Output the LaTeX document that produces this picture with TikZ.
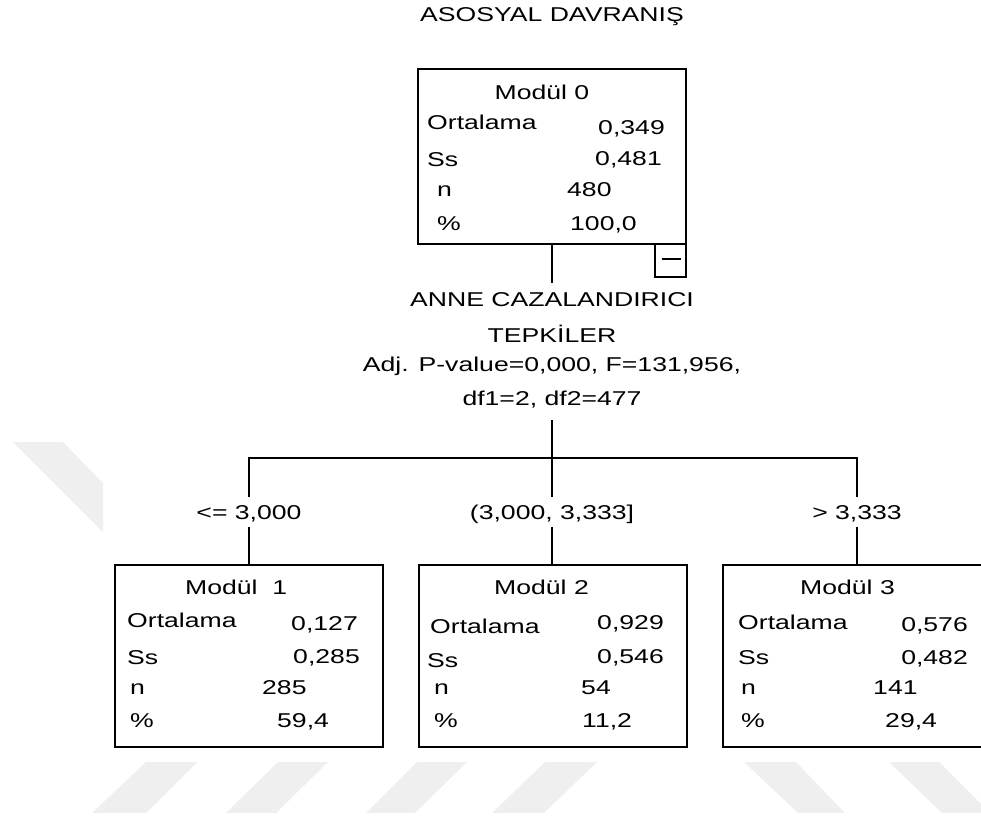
\documentclass[tikz,border=0pt]{standalone}
\usepackage{fontspec}
\setmainfont{Liberation Sans}[FakeStretch=1.33]
\newcommand\tf{\fontsize{20}{24}\selectfont}
\definecolor{stripe}{HTML}{EFEFEF}
\begin{document}
\begin{tikzpicture}[x=1pt,y=-1pt,
  box/.style={draw=black, line width=2pt, minimum width=268pt, inner sep=0pt},
  conn/.style={draw=black, line width=1.8pt},
  tx/.style={font=\tf, inner sep=0pt, text=black},
  lab/.style={font=\tf, inner sep=0pt, minimum height=30pt, text height=14.5pt, text depth=0pt},
  wm/.style={fill=stripe, draw=none}]
\useasboundingbox (0,0) rectangle (981,817);
\clip (0,0) rectangle (981,817);
% watermark stripes
\fill[wm] (13,442) -- (63,442) -- (103,483) -- (103,532) -- cycle;
\fill[wm] (146,762) -- (197,762) -- (146,813) -- (92,813) -- cycle;
\fill[wm] (278,762) -- (328,762) -- (276,813) -- (226,813) -- cycle;
\fill[wm] (417,762) -- (467,762) -- (415,813) -- (366,813) -- cycle;
\fill[wm] (545,762) -- (597,762) -- (544,813) -- (492,813) -- cycle;
\fill[wm] (744,762) -- (796,762) -- (845,813) -- (798,813) -- cycle;
\fill[wm] (889,762) -- (939,762) -- (990,813) -- (942,813) -- cycle;

% title
\node[tx, anchor=base] (title) at (552,21) {ASOSYAL DAVRANIŞ};

% boxes
\node[box, minimum height=175pt] (m0) at (552,156.5) {};
\node[box, minimum height=182pt] (m1) at (249,656) {};
\node[box, minimum height=182pt] (m2) at (552.5,656) {};
\node[box, minimum height=182pt] (m3) at (857,656) {};
\node[draw=black, line width=1.6pt, minimum width=31pt, minimum height=33pt, inner sep=0pt] (minus) at (670.5,260.5) {};
\draw[line width=1.6pt] ([xshift=-9pt,yshift=1.5pt]minus.center) -- ([xshift=10pt,yshift=1.5pt]minus.center);

% root texts
\node[tx, anchor=base] (t0) at (542,99) {Modül 0};
\node[tx, anchor=base west] (o0) at (427,129) {Ortalama};
\node[tx, anchor=base east] (ov0) at (665,134) {0,349};
\node[tx, anchor=base west] (s0) at (427,166) {Ss};
\node[tx, anchor=base east] (sv0) at (662,165) {0,481};
\node[tx, anchor=base west] (n0) at (437,196) {n};
\node[tx, anchor=base west] (nv0) at (567,196) {480};
\node[tx, anchor=base west] (p0) at (437,230) {\%};
\node[tx, anchor=base west] (pv0) at (570,230) {100,0};

% box 1
\node[tx, anchor=base west] (t1) at (185,594) {Modül\ \ 1};
\node[tx, anchor=base west] (o1) at (127,627) {Ortalama};
\node[tx, anchor=base east] (ov1) at (358,630) {0,127};
\node[tx, anchor=base west] (s1) at (127,664) {Ss};
\node[tx, anchor=base east] (sv1) at (360,663) {0,285};
\node[tx, anchor=base west] (n1) at (130,694) {n};
\node[tx, anchor=base west] (nv1) at (262,694) {285};
\node[tx, anchor=base west] (p1) at (130,727) {\%};
\node[tx, anchor=base west] (pv1) at (277,727) {59,4};

% box 2
\node[tx, anchor=base west] (t2) at (494,594) {Modül 2};
\node[tx, anchor=base west] (o2) at (430,633) {Ortalama};
\node[tx, anchor=base east] (ov2) at (664,629) {0,929};
\node[tx, anchor=base west] (s2) at (427,667) {Ss};
\node[tx, anchor=base east] (sv2) at (664,663) {0,546};
\node[tx, anchor=base west] (n2) at (434,694) {n};
\node[tx, anchor=base west] (nv2) at (581,694) {54};
\node[tx, anchor=base west] (p2) at (434,727) {\%};
\node[tx, anchor=base west] (pv2) at (582,727) {11,2};

% box 3
\node[tx, anchor=base west] (t3) at (800,594) {Modül 3};
\node[tx, anchor=base west] (o3) at (738,629) {Ortalama};
\node[tx, anchor=base east] (ov3) at (968,631) {0,576};
\node[tx, anchor=base west] (s3) at (738,664) {Ss};
\node[tx, anchor=base east] (sv3) at (968,664) {0,482};
\node[tx, anchor=base west] (n3) at (741,694) {n};
\node[tx, anchor=base west] (nv3) at (873,694) {141};
\node[tx, anchor=base west] (p3) at (741,727) {\%};
\node[tx, anchor=base west] (pv3) at (885,727) {29,4};

% split description
\node[tx, anchor=base] (sa) at (552,306) {ANNE CAZALANDIRICI};
\node[tx, anchor=base] (sb) at (552,342) {TEPKİLER};
\node[tx, anchor=base] (sc) at (552,371) {Adj. P-value=0,000, F=131,956,};
\node[tx, anchor=base] (sd) at (552,405) {df1=2, df2=477};

% connectors
\coordinate (r1) at (552,283);
\draw[conn] (m0.south -| r1) -- (r1);
\coordinate (j) at (552,420);
\coordinate (hm) at (552,458);
\coordinate (hl) at (249,458);
\coordinate (hr) at (857,458);
\draw[conn] (j) -- (hm);
\draw[conn] ([xshift=-0.9pt]hl) -- ([xshift=0.9pt]hr);

\node[lab] (l1) at (249,512) {<= 3,000};
\node[lab] (l2) at (552,512) {(3,000, 3,333]};
\node[lab] (l3) at (857,512) {> 3,333};

\draw[conn] (hl) -- (l1.north);
\draw[conn] (l1.south) -- (m1.north);
\draw[conn] (hm) -- (l2.north);
\draw[conn] (l2.south) -- (l2.south |- m2.north);
\draw[conn] (hr) -- (l3.north);
\draw[conn] (l3.south) -- (m3.north);
\end{tikzpicture}
\end{document}
